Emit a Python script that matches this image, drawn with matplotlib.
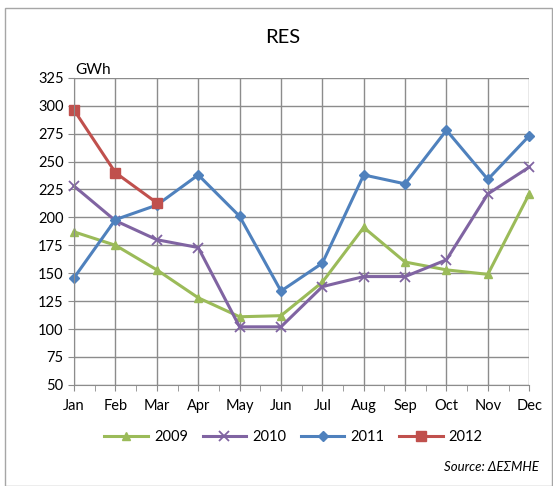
import matplotlib
matplotlib.use("Agg")
import matplotlib.pyplot as plt
from matplotlib.patches import Rectangle
import numpy as np

months = ["Jan", "Feb", "Mar", "Apr", "May", "Jun", "Jul", "Aug", "Sep", "Oct", "Nov", "Dec"]
y2009 = [187, 175, 153, 128, 111, 112, 142, 191, 160, 153, 149, 221]
y2010 = [228, 197, 180, 173, 102, 102, 138, 147, 147, 162, 221, 245]
y2011 = [146, 198, 211, 238, 201, 134, 159, 238, 230, 278, 234, 273]
y2012 = [296, 240, 213]
yticks = list(range(50, 326, 25))

plt.rcParams['font.family'] = ['Lato', 'DejaVu Sans']

fig = plt.figure(figsize=(5.53, 4.86), dpi=100)
fig.patches.append(Rectangle((0.009, 0.0), 0.99, 0.983, transform=fig.transFigure,
                             fill=False, edgecolor='#a6a6a6', linewidth=1.0))

ax = fig.add_axes([0.134, 0.208, 0.823, 0.632])
x = np.arange(len(months))

ax.plot(x, y2009, color='#9BBB59', lw=2.2, marker='^', ms=6, label='2009', clip_on=False)
ax.plot(x, y2010, color='#8064A2', lw=2.2, marker='x', ms=7, mew=1.3, label='2010', clip_on=False)
ax.plot(x, y2011, color='#4F81BD', lw=2.2, marker='D', ms=5, label='2011', clip_on=False)
ax.plot(np.arange(len(y2012)), y2012, color='#C0504D', lw=2.2, marker='s', ms=7, label='2012', clip_on=False)

ax.set_xlim(0, 11)
ax.set_ylim(50, 325)
ax.set_yticks(yticks)
ax.set_xticks(x)
ax.set_xticklabels(months)
ax.set_xticks(np.arange(0.5, 11, 1), minor=True)
ax.grid(True, which='major', color='#8c8c8c', linewidth=1.0)
ax.set_axisbelow(True)
for s in ['top', 'right']:
    ax.spines[s].set_visible(False)
for s in ['left', 'bottom']:
    ax.spines[s].set_color('#8c8c8c')
ax.tick_params(axis='both', which='both', color='#8c8c8c', labelsize=10.5, length=4)
ax.tick_params(axis='x', which='major', pad=6)

fig.text(0.512, 0.923, 'RES', ha='center', va='center', fontsize=14.5)
fig.text(0.136, 0.856, 'GWh', ha='left', va='center', fontsize=11)

ax.legend(loc='upper center', bbox_to_anchor=(0.482, -0.105), ncol=4, frameon=False,
          fontsize=10.5, handlelength=3.0, columnspacing=1.0, handletextpad=0.4)
fig.text(0.975, 0.04, 'Source: ΔΕΣΜΗΕ', ha='right', va='center', fontsize=9.5, style='italic')

fig.savefig('out.png', dpi=100)
